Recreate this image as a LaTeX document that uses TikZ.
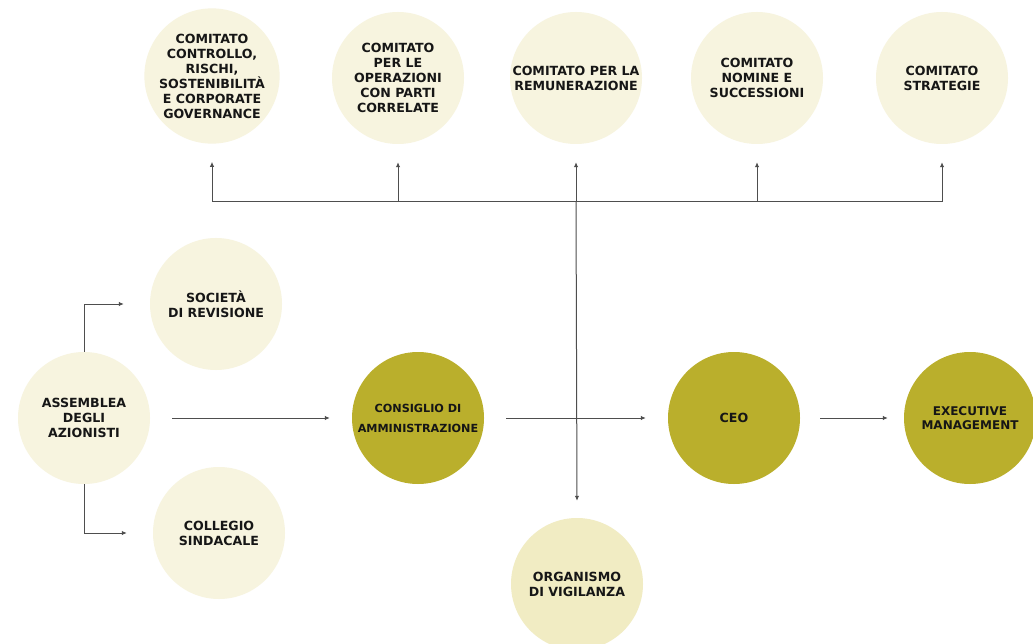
\documentclass[tikz,border=0pt]{standalone}
\usepackage{fontspec}
\setmainfont{DejaVu Sans}
\usetikzlibrary{arrows.meta}
\definecolor{cream}{HTML}{F7F4DF}
\definecolor{sand}{HTML}{F1ECC3}
\definecolor{olive}{HTML}{BAAF2C}
\definecolor{ink}{HTML}{161616}
\definecolor{linegray}{HTML}{4E4E4E}

\begin{document}
\begin{tikzpicture}[x=1pt, y=-1pt,
    every node/.style = {shape=circle, minimum size=132pt, inner sep=0pt, align=center, text=ink, font=\bfseries\fontsize{12.6}{15}\selectfont},
    light/.style = {fill=cream},
    pale/.style = {fill=sand},
    dark/.style = {fill=olive},
    wire/.style = {draw=linegray, line width=1pt},
    link/.style = {wire, -{Latex[length=5pt,width=4.5pt]}}]
    \useasboundingbox[fill=white] (0,0) rectangle (1033,644);
    % comitati
    \node[light] (controllo) at (212,76) {COMITATO\\CONTROLLO,\\RISCHI,\\SOSTENIBILITÀ\\E CORPORATE\\GOVERNANCE};
    \node[light] (correlate) at (398,78) {COMITATO\\PER LE\\OPERAZIONI\\CON PARTI\\CORRELATE};
    \node[light] (remunerazione) at (576,78) {COMITATO PER LA\\REMUNERAZIONE};
    \node[light] (nomine) at (757,78) {COMITATO\\NOMINE E\\SUCCESSIONI};
    \node[light] (strategie) at (942,78) {COMITATO\\STRATEGIE};
    % organi
    \node[light] (assemblea) at (84,418) {ASSEMBLEA\\DEGLI\\AZIONISTI};
    \node[light] (societa) at (216,304) {SOCIETÀ\\DI REVISIONE};
    \node[light] (collegio) at (219,533) {COLLEGIO\\SINDACALE};
    \node[dark, font=\bfseries\fontsize{11.2}{20}\selectfont] (consiglio) at (418,418) {CONSIGLIO DI\\AMMINISTRAZIONE};
    \node[dark] (ceo) at (734,418) {CEO};
    \node[dark, font=\bfseries\fontsize{12}{14}\selectfont] (exec) at (970,418) {EXECUTIVE\\MANAGEMENT};
    \node[pale] (organismo) at (577,584) {ORGANISMO\\DI VIGILANZA};
    \coordinate (hub) at (576,202);
    % collegamenti
    \draw[link] (assemblea.north) |- ([xshift=-26pt]societa.west);
    \draw[link] (assemblea.south) |- ([xshift=-26pt]collegio.west);
    \draw[link] ([xshift=22pt]assemblea.east) -- ([xshift=-22pt]consiglio.west);
    \draw[link] ([xshift=22pt]consiglio.east) -- ([xshift=-22pt]ceo.west);
    \draw[link] ([xshift=20pt]ceo.east) -- ([xshift=-16pt]exec.west);
    \draw[wire] (controllo |- hub) -- (strategie |- hub);
    \foreach \c in {controllo,correlate,remunerazione,nomine,strategie}
        \draw[link] (\c |- hub) -- ([yshift=-18pt]\c.south);
    \draw[link] (hub) -- ([yshift=17pt]organismo.north);
\end{tikzpicture}
\end{document}
